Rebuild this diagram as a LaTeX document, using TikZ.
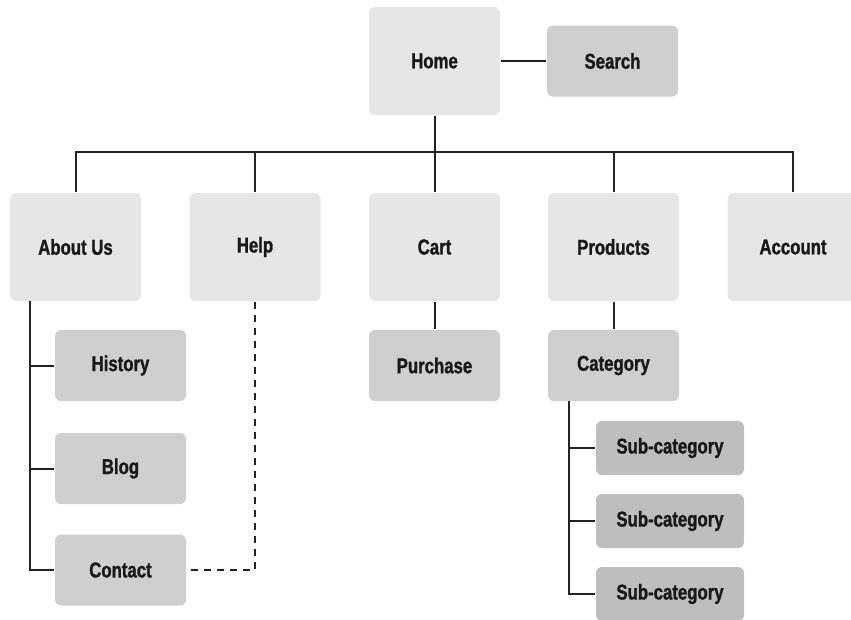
\documentclass[tikz,border=0pt]{standalone}
\usepackage{fontspec}
\setmainfont{Liberation Sans}[FakeStretch=0.78, BoldFeatures={FakeBold=1.2}]
\usepackage{tikz}
\usetikzlibrary{positioning}
\definecolor{pglight}{HTML}{E6E6E6}
\definecolor{pgmid}{HTML}{CFCFCF}
\definecolor{pgdark}{HTML}{BEBEBE}
\definecolor{pgline}{HTML}{222222}
\begin{document}
\begin{tikzpicture}[x=1pt, y=-1pt, font=\fontsize{21.5}{24}\selectfont\bfseries, line width=2pt, draw=pgline]
\tikzstyle{pg}=[rounded corners=6pt, align=center, inner sep=0pt, text=black!90, minimum width=131pt]
\tikzstyle{top}=[pg, fill=pglight, minimum height=108pt]
\tikzstyle{sub}=[pg, fill=pgmid, minimum height=71pt]
\tikzstyle{leaf}=[pg, fill=pgdark, minimum width=148pt, minimum height=54pt]
\useasboundingbox (0,0) rectangle (851,619);
% top row
\node[top] (home) at (434.5,61) {Home};
\node[sub] (search) at (612.5,61) {Search};
\node[top] (about) at (75.5,247) {About Us};
\node[top] (help) at (255,247) {Help};
\node[top] (cart) at (434.5,247) {Cart};
\node[top] (products) at (613.5,247) {Products};
\node[top] (account) at (793,247) {Account};
% second level
\node[sub] (history) at (120.5,365.5) {History};
\node[sub] (blog) at (120.5,468.5) {Blog};
\node[sub] (contact) at (120.5,570) {Contact};
\node[sub] (purchase) at (434.5,365.5) {Purchase};
\node[sub] (category) at (613.5,365.5) {Category};
\node[leaf] (subcat1) at (670,448) {Sub-category};
\node[leaf] (subcat2) at (670,521) {Sub-category};
\node[leaf] (subcat3) at (670,594) {Sub-category};
% connectors
\coordinate (bus) at (434.5,152);
\coordinate (aboutline) at (30,301);
\coordinate (catline) at (569,401);
\draw[pgline] (home) -- (search);
\draw[pgline] (home.south) -- (bus);
\draw[pgline] (about.north) |- (bus) -| (account.north);
\draw[pgline] (help.north) -- (help.north |- bus);
\draw[pgline] (cart.north) -- (bus);
\draw[pgline] (products.north) -- (products.north |- bus);
\draw[pgline] (cart) -- (purchase);
\draw[pgline] (products) -- (category);
\draw[pgline] (aboutline) |- (contact.west);
\draw[pgline] (history.west) -- (history.west -| aboutline);
\draw[pgline] (blog.west) -- (blog.west -| aboutline);
\draw[pgline, dashed, dash pattern=on 7pt off 6pt] (help.south) |- (contact.east);
\draw[pgline] (catline) |- (subcat3.west);
\draw[pgline] (subcat1.west) -- (subcat1.west -| catline);
\draw[pgline] (subcat2.west) -- (subcat2.west -| catline);
\end{tikzpicture}
\end{document}
